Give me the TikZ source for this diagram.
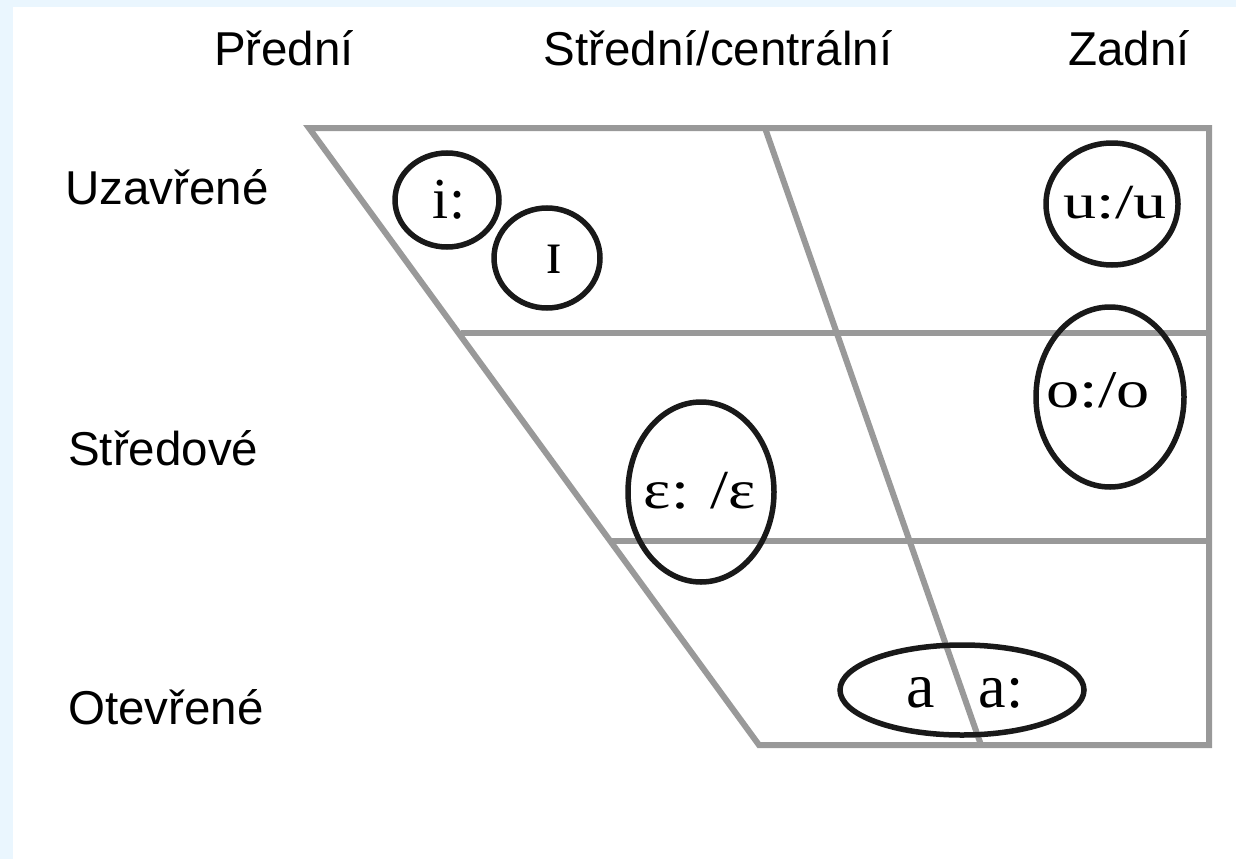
\documentclass[tikz,border=0pt]{standalone}
\usepackage{fontspec}
\setmainfont{Liberation Serif}
\newfontfamily\labfont{Liberation Sans}
\usetikzlibrary{shapes.geometric}
\definecolor{bgblue}{RGB}{234,246,254}
\definecolor{gridgray}{RGB}{153,153,153}
\definecolor{ringblack}{RGB}{25,25,25}
\begin{document}
\begin{tikzpicture}[x=1pt,y=-1pt,
  lab/.style={font=\labfont\fontsize{47.5}{50}\selectfont, inner sep=0pt},
  grid/.style={draw=gridgray, line width=6pt},
  ring/.style={draw=ringblack, line width=5.5pt, ellipse, inner sep=0pt},
  ipa/.style={inner sep=0pt, anchor=base}]
% background
\fill[white] (0,0) rectangle (1236,859);
\fill[bgblue] (0,0) rectangle (1236,7);
\fill[bgblue] (0,0) rectangle (13,859);
\useasboundingbox (0,0) rectangle (1236,859);
% column and row labels
\node[lab, anchor=base] (front) at (284,66) {Přední};
\node[lab, anchor=base] (central) at (718,66) {Střední/centrální};
\node[lab, anchor=base] (back) at (1129,66) {Zadní};
\node[lab, anchor=base west] (close) at (65,204) {Uzavřené};
\node[lab, anchor=base west] (mid) at (68,465) {Středové};
\node[lab, anchor=base west] (open) at (68,724) {Otevřené};
% trapezoid grid
\coordinate (tl) at (309,128);
\coordinate (tr) at (1209,128);
\coordinate (br) at (1209,745);
\coordinate (bl) at (759,745);
\coordinate (mt) at (765,128);
\coordinate (mb) at (981,745);
\draw[grid, line join=miter] (tl) -- (tr) -- (br) -- (bl) -- cycle;
\draw[grid] (mt) -- (mb);
\draw[grid] (461,333) -- (1209,333);
\draw[grid] (611,541) -- (1209,541);
% vowel rings
\node[ring, minimum width=104pt, minimum height=94pt] (ii) at (447,200) {};
\node[ring, minimum width=106pt, minimum height=100pt] (ih) at (547,258) {};
\node[ring, minimum width=132pt, minimum height=122pt] (uu) at (1112,204) {};
\node[ring, minimum width=148pt, minimum height=180pt] (oo) at (1110,397) {};
\node[ring, minimum width=146pt, minimum height=180pt] (ee) at (701,492) {};
\node[ring, minimum width=244pt, minimum height=90pt] (aa) at (962,690) {};
% vowel symbols
\node[ipa, font=\fontsize{58}{60}\selectfont] (tii) at (449,218) {i:};
\node[ipa, font=\fontsize{62}{64}\selectfont] (tih) at (554,273) {ɪ};
\node[ipa, font=\fontsize{49}{51}\selectfont] (tuu) at (1115,218) {\scalebox{1.35}[1]{u:/u}};
\node[ipa, font=\fontsize{53}{55}\selectfont] (too) at (1098,407) {\scalebox{1.25}[1]{o:/o}};
\node[ipa, font=\fontsize{55}{57}\selectfont] (tee) at (700,508) {\scalebox{1.18}[1]{ε: /ε}};
\node[ipa, font=\fontsize{64}{66}\selectfont] (ta) at (921,707) {a};
\node[ipa, font=\fontsize{62}{64}\selectfont] (taa) at (1001,707) {a:};
\end{tikzpicture}
\end{document}
